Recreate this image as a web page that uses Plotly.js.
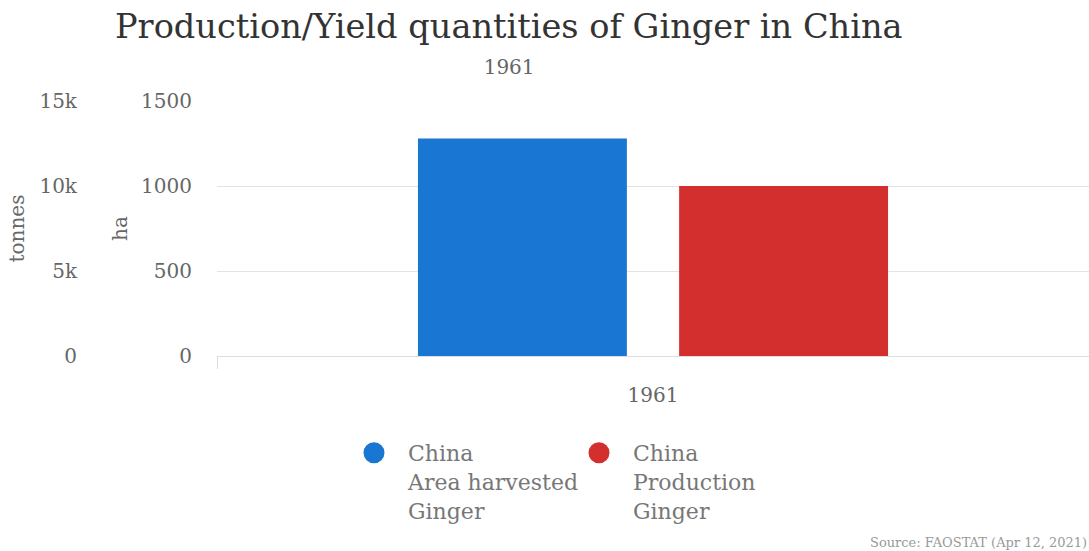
<!DOCTYPE html>
<html>
<head>
<meta charset="utf-8">
<script src="https://cdn.plot.ly/plotly-3.0.1.min.js"></script>
<style>html,body{margin:0;padding:0;background:#fff}#chart{width:1089px;height:551px}</style>
</head>
<body>
<div id="chart"></div>
<script>
const years = ["1961"];
const areaHarvestedHa = [1280];
const productionTonnes = [10000];
const seriesNames = ["China<br>Area harvested<br>Ginger", "China<br>Production<br>Ginger"];
const seriesColors = ["#1976D2", "#D32F2F"];
const titleText = "Production/Yield quantities of Ginger in China";
const sourceText = "Source: FAOSTAT (Apr 12, 2021)";

const FONT = "DejaVu Serif, serif";

const traces = [
  {type: "bar", x: years, y: areaHarvestedHa, xaxis: "x", yaxis: "y",
   marker: {color: seriesColors[0]}, offsetgroup: "a", showlegend: false, hoverinfo: "y"},
  {type: "bar", x: years, y: productionTonnes, xaxis: "x", yaxis: "y2",
   marker: {color: seriesColors[1]}, offsetgroup: "b", showlegend: false, hoverinfo: "y"},
  {type: "scatter", mode: "markers", x: [null], y: [null], name: seriesNames[0],
   marker: {color: seriesColors[0], size: 22, symbol: "circle", line: {color: seriesColors[0], width: 6}}, xaxis: "x", yaxis: "y"},
  {type: "scatter", mode: "markers", x: [null], y: [null], name: seriesNames[1],
   marker: {color: seriesColors[1], size: 22, symbol: "circle", line: {color: seriesColors[1], width: 6}}, xaxis: "x", yaxis: "y"},
  {type: "scatter", mode: "markers", x: years, y: [null], xaxis: "x2", yaxis: "y",
   showlegend: false, hoverinfo: "skip"}
];

const layout = {
  width: 1089, height: 551,
  paper_bgcolor: "#fff", plot_bgcolor: "#fff",
  margin: {l: 0, r: 0, t: 101, b: 195, pad: 0},
  font: {family: FONT, color: "#666", size: 20},
  title: {text: titleText, font: {family: FONT, size: 33.6, color: "#333"},
          x: 115/1089, xanchor: "left", xref: "paper", y: 1 - 26/551, yanchor: "middle", yref: "container"},
  barmode: "group", bargap: 0.401, bargroupgap: 0.2,
  xaxis: {type: "category", domain: [217/1089, 1], showgrid: false, showline: true, linecolor: "#ddd",
          ticks: "outside", tickson: "boundaries", ticklen: 12, tickcolor: "#ddd",
          ticklabelstandoff: 21, tickfont: {size: 20, color: "#666"}, zeroline: false, fixedrange: true},
  xaxis2: {type: "category", overlaying: "x", side: "top", anchor: "y", showgrid: false, showline: false,
           range: [-0.335, 0.665], ticks: "", ticklabelstandoff: 22, tickfont: {size: 20, color: "#666"}, zeroline: false},
  yaxis: {range: [0, 1500], dtick: 500, tick0: 0, showgrid: true, gridcolor: "#e3e3e3", zeroline: false,
          showline: false, ticks: "", ticklabelstandoff: 24, tickfont: {size: 20, color: "#666"},
          title: {text: "ha", font: {size: 20, color: "#666"}, standoff: 8}},
  yaxis2: {range: [0, 15000], dtick: 5000, tick0: 0, tickformat: "~s", overlaying: "y", anchor: "free",
           position: 77/1089, side: "left", showgrid: false, zeroline: false, showline: false, ticks: "",
           tickfont: {size: 20, color: "#666"},
           title: {text: "tonnes", font: {size: 20, color: "#666"}, standoff: 8}},
  legend: {orientation: "h", x: 340/1089, xanchor: "left", y: -0.298, yanchor: "top",
           font: {family: FONT, size: 22, color: "#777"}, valign: "top", itemwidth: 58,
           entrywidth: 152, bgcolor: "rgba(0,0,0,0)"},
  annotations: [{text: sourceText, xref: "paper", yref: "paper", x: 1, y: 0, yshift: -196,
                 xanchor: "right", yanchor: "bottom", showarrow: false,
                 font: {family: FONT, size: 13, color: "#999"}}],
  showlegend: true
};

Plotly.newPlot("chart", traces, layout, {displayModeBar: false, staticPlot: false});
</script>
</body>
</html>
